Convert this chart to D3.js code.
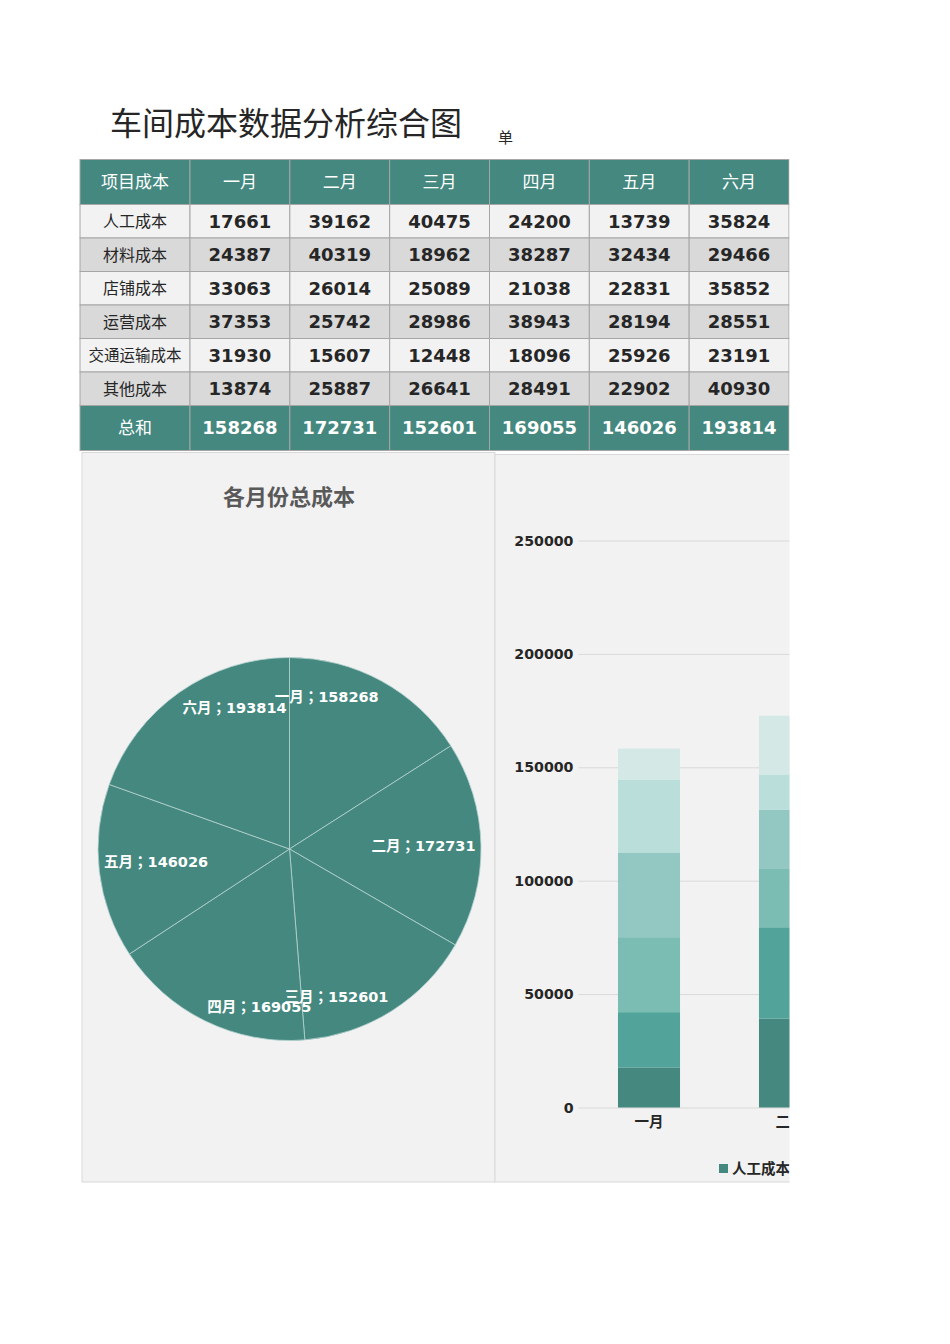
<!DOCTYPE html>
<html>
<head>
<meta charset="utf-8">
<script src="https://cdn.jsdelivr.net/npm/d3@7"></script>
<style>
  html, body { margin: 0; padding: 0; background: #fff; }
  svg { display: block; }
</style>
</head>
<body>
<div id="chart"></div>
<script>
// ---- data ----
const months = ['一月', '二月', '三月', '四月', '五月', '六月'];
const items = ['人工成本', '材料成本', '店铺成本', '运营成本', '交通运输成本', '其他成本'];
const laborCost     = [17661, 39162, 40475, 24200, 13739, 35824];
const materialCost  = [24387, 40319, 18962, 38287, 32434, 29466];
const shopCost      = [33063, 26014, 25089, 21038, 22831, 35852];
const operateCost   = [37353, 25742, 28986, 38943, 28194, 28551];
const transportCost = [31930, 15607, 12448, 18096, 25926, 23191];
const otherCost     = [13874, 25887, 26641, 28491, 22902, 40930];
const totals        = [158268, 172731, 152601, 169055, 146026, 193814];
const yTicks = [0, 50000, 100000, 150000, 200000, 250000];

const series = [laborCost, materialCost, shopCost, operateCost, transportCost, otherCost];
const stackColors = ['#44887f', '#52a49a', '#7bbcb3', '#92c8c1', '#badeda', '#d4e9e6'];
const teal = '#44887f';

// label placement for the pie (polar: degrees from 12 o'clock, radius factor)
const pieLabelPos = [[13.7, 0.82], [88.7, 0.70], [162.4, 0.81], [190.8, 0.84], [264.4, 0.70], [338.7, 0.79]];

const W = 950, H = 1344;
const cjk = '"DejaVu Sans", "Noto Sans CJK SC", sans-serif';
const hei = '"Noto Sans CJK SC", sans-serif';

const svg = d3.select('#chart').append('svg')
  .attr('width', W).attr('height', H)
  .attr('viewBox', [0, 0, W, H]);

// page clip (content stops at the right edge of the table)
svg.append('clipPath').attr('id', 'pageClip')
  .append('rect').attr('x', 0).attr('y', 0).attr('width', 789.5).attr('height', H);

const page = svg.append('g').attr('clip-path', 'url(#pageClip)');

// ---- title ----
page.append('text')
  .attr('x', 110).attr('y', 135)
  .attr('font-family', hei)
  .attr('font-weight', 'normal')
  .attr('font-size', 32)
  .attr('fill', '#262626')
  .text('车间成本数据分析综合图');

// unit note, cut by its cell in the sheet
page.append('text')
  .attr('x', 498).attr('y', 143)
  .attr('font-family', hei)
  .attr('font-size', 15)
  .attr('fill', '#262626')
  .text('单');

// ---- table ----
const colLeft = c => c === 'head' ? 80 : 190 + months.indexOf(c) * ((789 - 190) / 6);
const colWidth = c => c === 'head' ? 110 : (789 - 190) / 6;

const rows = [
  { label: '项目成本', cells: months, kind: 'header' },
  ...items.map((name, i) => ({ label: name, cells: series[i], kind: i % 2 ? 'dark' : 'light' })),
  { label: '总和', cells: totals, kind: 'total' }
];
const rowH = r => (r.kind === 'header' || r.kind === 'total') ? 45 : 33.5;
let yAcc = 159.5;
rows.forEach(r => { r.y = yAcc; r.h = rowH(r); yAcc += r.h; });

const fillFor = k => ({ header: teal, total: teal, light: '#f2f2f2', dark: '#d9d9d9' })[k];

const tableG = page.append('g');
const rowG = tableG.selectAll('g.row').data(rows).join('g').attr('class', 'row');

rowG.each(function(r) {
  const g = d3.select(this);
  const cols = ['head', ...months];
  const values = [r.label, ...r.cells];
  cols.forEach((c, j) => {
    g.append('rect')
      .attr('x', colLeft(c)).attr('y', r.y)
      .attr('width', colWidth(c)).attr('height', r.h)
      .attr('fill', fillFor(r.kind))
      .attr('stroke', '#a6a6a6').attr('stroke-width', 1);
    const isNum = typeof values[j] === 'number';
    const light = r.kind === 'header' || r.kind === 'total';
    const longLabel = !isNum && String(values[j]).length > 4;
    g.append('text')
      .attr('x', colLeft(c) + colWidth(c) / 2)
      .attr('y', r.y + r.h / 2)
      .attr('dy', '0.36em')
      .attr('text-anchor', 'middle')
      .attr('font-family', isNum ? cjk : hei)
      .attr('font-weight', isNum ? 'bold' : 'normal')
      .attr('font-size', isNum ? 18 : (light ? 17 : (longLabel ? 15.5 : 16)))
      .attr('fill', light ? '#ffffff' : '#262626')
      .text(values[j]);
  });
});

// ---- pie panel ----
page.append('rect')
  .attr('x', 82).attr('y', 452.5).attr('width', 413).attr('height', 729.5)
  .attr('fill', '#f2f2f2').attr('stroke', '#d9d9d9');

page.append('text')
  .attr('x', 289).attr('y', 497).attr('dy', '0.36em')
  .attr('text-anchor', 'middle')
  .attr('font-family', hei)
  .attr('font-weight', 'bold')
  .attr('font-size', 22)
  .attr('fill', '#595959')
  .text('各月份总成本');

const pieData = months.map((m, i) => ({ month: m, value: totals[i] }));
const pie = d3.pie().value(d => d.value).sort(null);
const radius = 191.5;
const arc = d3.arc().innerRadius(0).outerRadius(radius);
const pieG = page.append('g').attr('transform', 'translate(289.5, 849)');

pieG.selectAll('path')
  .data(pie(pieData))
  .join('path')
  .attr('d', arc)
  .attr('fill', teal)
  .attr('stroke', '#b5d3cf')
  .attr('stroke-width', 0.8);

pieG.selectAll('text')
  .data(pie(pieData))
  .join('text')
  .attr('transform', (d, i) => {
    const a = pieLabelPos[i][0] * Math.PI / 180;
    const r = pieLabelPos[i][1] * radius;
    return `translate(${r * Math.sin(a)}, ${-r * Math.cos(a)})`;
  })
  .attr('dy', '0.36em')
  .attr('text-anchor', 'middle')
  .attr('font-family', '"DejaVu Sans", "Noto Sans CJK JP", sans-serif')
  .attr('font-weight', 'bold')
  .attr('font-size', 14.5)
  .attr('fill', '#ffffff')
  .text(d => `${d.data.month}；${d.data.value}`);

// ---- stacked bar panel ----
page.append('rect')
  .attr('x', 495).attr('y', 454.5).attr('width', 400).attr('height', 727.5)
  .attr('fill', '#f2f2f2').attr('stroke', '#d9d9d9');

const x = d3.scaleBand().domain(months).range([578.5, 578.5 + 141 * 6]).paddingInner(0.56).paddingOuter(0.28);
const y = d3.scaleLinear().domain([0, 250000]).range([1107.5, 540.5]);

const barG = page.append('g');

// gridlines + y tick labels
barG.append('g')
  .attr('transform', 'translate(578.5, 0)')
  .call(d3.axisLeft(y).tickValues(yTicks).tickSize(-900).tickFormat(d => d))
  .call(g => g.select('.domain').remove())
  .call(g => g.selectAll('.tick line').attr('stroke', '#d9d9d9').attr('stroke-width', 1))
  .call(g => g.selectAll('.tick text')
    .attr('x', -5)
    .attr('font-family', cjk)
    .attr('font-weight', 'bold')
    .attr('font-size', 14.2)
    .attr('fill', '#262626'));

const stackInput = months.map((m, i) => {
  const o = { month: m };
  items.forEach((it, k) => { o[it] = series[k][i]; });
  return o;
});
const stacked = d3.stack().keys(items)(stackInput);

barG.selectAll('g.layer')
  .data(stacked)
  .join('g')
  .attr('class', 'layer')
  .attr('fill', (d, i) => stackColors[i])
  .selectAll('rect')
  .data(d => d)
  .join('rect')
  .attr('x', d => x(d.data.month))
  .attr('width', x.bandwidth())
  .attr('y', d => y(d[1]))
  .attr('height', d => y(d[0]) - y(d[1]));

// x labels
barG.append('g')
  .attr('transform', `translate(0, ${y(0)})`)
  .call(d3.axisBottom(x).tickSize(0).tickPadding(9))
  .call(g => g.select('.domain').remove())
  .call(g => g.selectAll('.tick text')
    .attr('font-family', hei)
    .attr('font-weight', 'bold')
    .attr('font-size', 14.5)
    .attr('fill', '#262626'));

// legend (runs past the cut edge of the sheet)
const legend = barG.append('g').attr('transform', 'translate(719, 1169)');
let lx = 0;
items.forEach((it, i) => {
  const g = legend.append('g').attr('transform', `translate(${lx}, 0)`);
  g.append('rect').attr('x', 0).attr('y', -5).attr('width', 9).attr('height', 9).attr('fill', stackColors[i]);
  g.append('text')
    .attr('x', 13).attr('dy', '0.36em')
    .attr('font-family', hei)
    .attr('font-weight', 'bold')
    .attr('font-size', 14.5)
    .attr('fill', '#262626')
    .text(it);
  lx += 13 + it.length * 14.5 + 14;
});
</script>
</body>
</html>
